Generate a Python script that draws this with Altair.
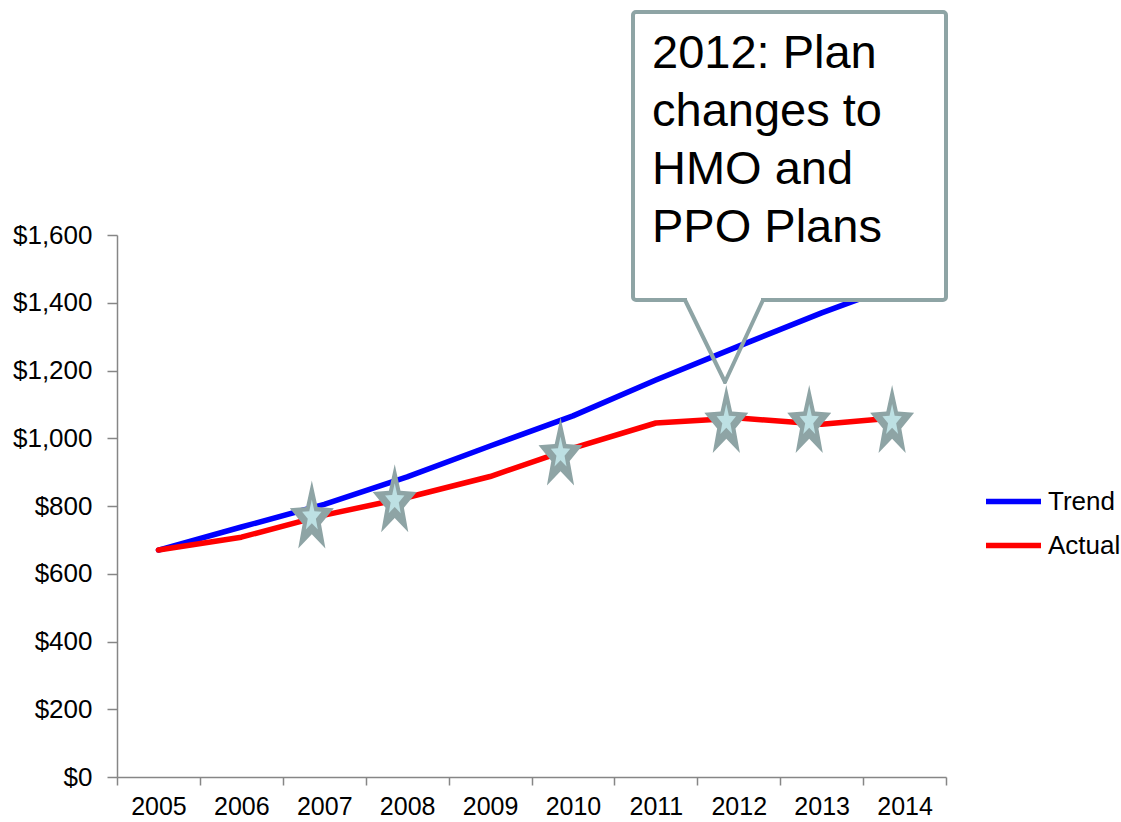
import altair as alt
import pandas as pd

# ---- data ----
years = [str(y) for y in range(2005, 2015)]
trend = [670, 738, 805, 886, 977, 1066, 1172, 1272, 1370, 1460]
actual = [670, 708, 773, 825, 887, 971, 1045, 1060, 1041, 1063]
series_names = ["Trend", "Actual"]
series_colors = ["#0000FF", "#FF0000"]
star_years = ["2007", "2008", "2010", "2012", "2013", "2014"]
star_values = [775, 823, 961, 1057, 1057, 1057]
y_ticks = [0, 200, 400, 600, 800, 1000, 1200, 1400, 1600]
callout_lines = ["2012: Plan", "changes to", "HMO and", "PPO Plans"]

rows = []
for name, vals in zip(series_names, [trend, actual]):
    for yr, v in zip(years, vals):
        rows.append({"year": yr, "value": v, "series": name})
lines_df = pd.DataFrame(rows)
stars_df = pd.DataFrame({"year": star_years, "value": star_values})

FONT = "Liberation Sans"
GRAY = "#868686"
STAR_DARK = "#8EA4A5"
STAR_LIGHT = "#BDE0E3"
STAR_PATH = ("M0,-1L0.17,-0.22L0.647,-0.18L0.27,0.28L0.4,1L0,0.58"
             "L-0.4,1L-0.27,0.28L-0.647,-0.18L-0.17,-0.22Z")

x_enc = alt.X(
    "year:O",
    scale=alt.Scale(type="band", domain=years, paddingInner=0, paddingOuter=0),
    bandPosition=0.5,
    axis=alt.Axis(title=None, labelAngle=0, tickBand="extent", tickSize=8,
                  labelPadding=9, labelFontSize=25, grid=False),
)
y_enc = alt.Y(
    "value:Q",
    scale=alt.Scale(domain=[0, 1600], nice=False),
    axis=alt.Axis(title=None, values=y_ticks, format="$,.0f", tickSize=10,
                  labelPadding=15, grid=False),
)

lines = alt.Chart(lines_df).mark_line(strokeWidth=5.5, strokeCap="round", strokeJoin="round").encode(
    x=x_enc,
    y=y_enc,
    color=alt.Color(
        "series:N",
        scale=alt.Scale(domain=series_names, range=series_colors),
        legend=alt.Legend(
            title=None, orient="none", legendX=866, legendY=236,
            symbolType="stroke", symbolSize=3025, symbolStrokeWidth=5.5,
            labelFont=FONT, labelFontSize=26, labelColor="black",
            labelOffset=4, rowPadding=-10, padding=0,
        ),
    ),
    detail="series:N",
)

stars_outer = alt.Chart(stars_df).mark_point(
    shape=STAR_PATH, size=4624, filled=True, fill=STAR_DARK, opacity=1,
    strokeWidth=0,
).encode(x=alt.X("year:O", bandPosition=0.35), y="value:Q")

stars_inner = alt.Chart(stars_df).mark_point(
    shape=STAR_PATH, size=900, filled=True, fill=STAR_LIGHT, opacity=1,
    strokeWidth=0,
).encode(x=alt.X("year:O", bandPosition=0.35), y="value:Q")

one = alt.Data(values=[{"k": 1}])

box = alt.Chart(one).mark_rect(
    fill="white", stroke=STAR_DARK, strokeWidth=4, cornerRadius=3
).encode(x=alt.value(516), x2=alt.value(829), y=alt.value(-223), y2=alt.value(65))

gap = alt.Chart(one).mark_rule(color="white", strokeWidth=6).encode(
    x=alt.value(570), x2=alt.value(644), y=alt.value(65), y2=alt.value(65))

v_left = alt.Chart(one).mark_rule(color=STAR_DARK, strokeWidth=4, strokeCap="round").encode(
    x=alt.value(568), x2=alt.value(608), y=alt.value(65), y2=alt.value(147))
v_right = alt.Chart(one).mark_rule(color=STAR_DARK, strokeWidth=4, strokeCap="round").encode(
    x=alt.value(608), x2=alt.value(646), y=alt.value(147), y2=alt.value(65))

callout_text = alt.Chart(one).mark_text(
    align="left", baseline="alphabetic", font=FONT, fontSize=47,
    lineHeight=58, color="black",
).encode(x=alt.value(535), y=alt.value(-167), text=alt.value(callout_lines))

chart = alt.layer(
    lines, stars_outer, stars_inner, box, gap, v_left, v_right, callout_text
).properties(
    width=829, height=542,
    autosize=alt.AutoSizeParams(type="none"),
    padding={"left": 117, "top": 235, "right": 175, "bottom": 45},
    background="white",
).configure_view(stroke=None).configure_axis(
    labelFont=FONT, labelFontSize=26, labelColor="black",
    domainColor=GRAY, tickColor=GRAY, domainWidth=1.5, tickWidth=1.5,
)

chart.save("out.html", embed_options={"renderer": "svg", "actions": False})
